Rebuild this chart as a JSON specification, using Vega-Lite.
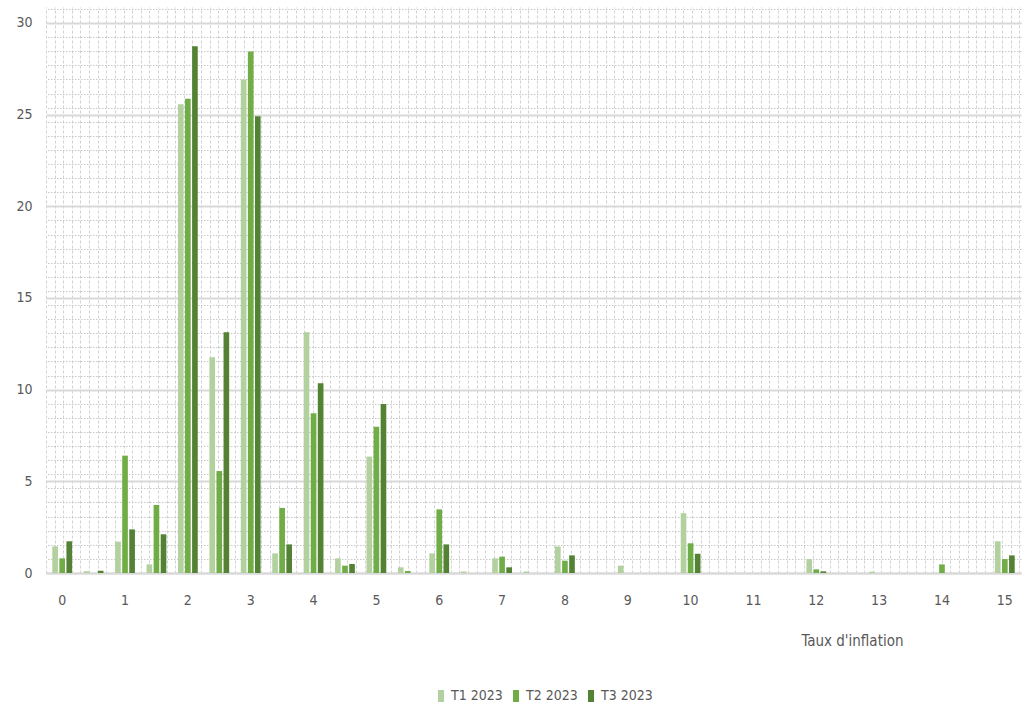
{
  "$schema": "https://vega.github.io/schema/vega-lite/v6.json",
  "width": 975,
  "height": 566,
  "autosize": {"type": "none"},
  "padding": {"left": 46, "top": 7, "right": 3, "bottom": 133},
  "background": "white",
  "config": {
    "view": {"stroke": null},
    "font": "'Liberation Sans Narrow', 'DejaVu Sans Condensed', 'Liberation Sans', sans-serif",
    "axis": {"labelFont": "'Liberation Sans Narrow', 'DejaVu Sans Condensed', 'Liberation Sans', sans-serif", "titleFont": "'Liberation Sans Narrow', 'DejaVu Sans Condensed', 'Liberation Sans', sans-serif", "labelColor": "#595959", "titleColor": "#595959"},
    "legend": {"labelFont": "'Liberation Sans Narrow', 'DejaVu Sans Condensed', 'Liberation Sans', sans-serif"}
  },
  "data": {
    "values": [
      {"taux": 0, "serie": "T1 2023", "valeur": 1.45}, {"taux": 0, "serie": "T2 2023", "valeur": 0.8}, {"taux": 0, "serie": "T3 2023", "valeur": 1.73},
      {"taux": 0.5, "serie": "T1 2023", "valeur": 0.1}, {"taux": 0.5, "serie": "T2 2023", "valeur": 0}, {"taux": 0.5, "serie": "T3 2023", "valeur": 0.12},
      {"taux": 1, "serie": "T1 2023", "valeur": 1.71}, {"taux": 1, "serie": "T2 2023", "valeur": 6.4}, {"taux": 1, "serie": "T3 2023", "valeur": 2.38},
      {"taux": 1.5, "serie": "T1 2023", "valeur": 0.47}, {"taux": 1.5, "serie": "T2 2023", "valeur": 3.71}, {"taux": 1.5, "serie": "T3 2023", "valeur": 2.11},
      {"taux": 2, "serie": "T1 2023", "valeur": 25.57}, {"taux": 2, "serie": "T2 2023", "valeur": 25.86}, {"taux": 2, "serie": "T3 2023", "valeur": 28.73},
      {"taux": 2.5, "serie": "T1 2023", "valeur": 11.77}, {"taux": 2.5, "serie": "T2 2023", "valeur": 5.56}, {"taux": 2.5, "serie": "T3 2023", "valeur": 13.13},
      {"taux": 3, "serie": "T1 2023", "valeur": 26.91}, {"taux": 3, "serie": "T2 2023", "valeur": 28.44}, {"taux": 3, "serie": "T3 2023", "valeur": 24.91},
      {"taux": 3.5, "serie": "T1 2023", "valeur": 1.07}, {"taux": 3.5, "serie": "T2 2023", "valeur": 3.55}, {"taux": 3.5, "serie": "T3 2023", "valeur": 1.56},
      {"taux": 4, "serie": "T1 2023", "valeur": 13.13}, {"taux": 4, "serie": "T2 2023", "valeur": 8.71}, {"taux": 4, "serie": "T3 2023", "valeur": 10.35},
      {"taux": 4.5, "serie": "T1 2023", "valeur": 0.8}, {"taux": 4.5, "serie": "T2 2023", "valeur": 0.4}, {"taux": 4.5, "serie": "T3 2023", "valeur": 0.49},
      {"taux": 5, "serie": "T1 2023", "valeur": 6.35}, {"taux": 5, "serie": "T2 2023", "valeur": 7.98}, {"taux": 5, "serie": "T3 2023", "valeur": 9.22},
      {"taux": 5.5, "serie": "T1 2023", "valeur": 0.31}, {"taux": 5.5, "serie": "T2 2023", "valeur": 0.11}, {"taux": 5.5, "serie": "T3 2023", "valeur": 0},
      {"taux": 6, "serie": "T1 2023", "valeur": 1.07}, {"taux": 6, "serie": "T2 2023", "valeur": 3.47}, {"taux": 6, "serie": "T3 2023", "valeur": 1.56},
      {"taux": 6.5, "serie": "T1 2023", "valeur": 0.08}, {"taux": 6.5, "serie": "T2 2023", "valeur": 0}, {"taux": 6.5, "serie": "T3 2023", "valeur": 0},
      {"taux": 7, "serie": "T1 2023", "valeur": 0.8}, {"taux": 7, "serie": "T2 2023", "valeur": 0.89}, {"taux": 7, "serie": "T3 2023", "valeur": 0.31},
      {"taux": 7.5, "serie": "T1 2023", "valeur": 0.08}, {"taux": 7.5, "serie": "T2 2023", "valeur": 0}, {"taux": 7.5, "serie": "T3 2023", "valeur": 0},
      {"taux": 8, "serie": "T1 2023", "valeur": 1.44}, {"taux": 8, "serie": "T2 2023", "valeur": 0.67}, {"taux": 8, "serie": "T3 2023", "valeur": 0.96},
      {"taux": 8.5, "serie": "T1 2023", "valeur": 0}, {"taux": 8.5, "serie": "T2 2023", "valeur": 0}, {"taux": 8.5, "serie": "T3 2023", "valeur": 0},
      {"taux": 9, "serie": "T1 2023", "valeur": 0.4}, {"taux": 9, "serie": "T2 2023", "valeur": 0}, {"taux": 9, "serie": "T3 2023", "valeur": 0},
      {"taux": 9.5, "serie": "T1 2023", "valeur": 0}, {"taux": 9.5, "serie": "T2 2023", "valeur": 0}, {"taux": 9.5, "serie": "T3 2023", "valeur": 0},
      {"taux": 10, "serie": "T1 2023", "valeur": 3.26}, {"taux": 10, "serie": "T2 2023", "valeur": 1.62}, {"taux": 10, "serie": "T3 2023", "valeur": 1.05},
      {"taux": 10.5, "serie": "T1 2023", "valeur": 0}, {"taux": 10.5, "serie": "T2 2023", "valeur": 0}, {"taux": 10.5, "serie": "T3 2023", "valeur": 0},
      {"taux": 11, "serie": "T1 2023", "valeur": 0}, {"taux": 11, "serie": "T2 2023", "valeur": 0}, {"taux": 11, "serie": "T3 2023", "valeur": 0},
      {"taux": 11.5, "serie": "T1 2023", "valeur": 0}, {"taux": 11.5, "serie": "T2 2023", "valeur": 0}, {"taux": 11.5, "serie": "T3 2023", "valeur": 0},
      {"taux": 12, "serie": "T1 2023", "valeur": 0.76}, {"taux": 12, "serie": "T2 2023", "valeur": 0.2}, {"taux": 12, "serie": "T3 2023", "valeur": 0.09},
      {"taux": 12.5, "serie": "T1 2023", "valeur": 0}, {"taux": 12.5, "serie": "T2 2023", "valeur": 0}, {"taux": 12.5, "serie": "T3 2023", "valeur": 0},
      {"taux": 13, "serie": "T1 2023", "valeur": 0.07}, {"taux": 13, "serie": "T2 2023", "valeur": 0}, {"taux": 13, "serie": "T3 2023", "valeur": 0},
      {"taux": 13.5, "serie": "T1 2023", "valeur": 0}, {"taux": 13.5, "serie": "T2 2023", "valeur": 0}, {"taux": 13.5, "serie": "T3 2023", "valeur": 0},
      {"taux": 14, "serie": "T1 2023", "valeur": 0}, {"taux": 14, "serie": "T2 2023", "valeur": 0.47}, {"taux": 14, "serie": "T3 2023", "valeur": 0},
      {"taux": 14.5, "serie": "T1 2023", "valeur": 0}, {"taux": 14.5, "serie": "T2 2023", "valeur": 0}, {"taux": 14.5, "serie": "T3 2023", "valeur": 0},
      {"taux": 15, "serie": "T1 2023", "valeur": 1.73}, {"taux": 15, "serie": "T2 2023", "valeur": 0.76}, {"taux": 15, "serie": "T3 2023", "valeur": 0.96}
    ]
  },
  "layer": [
    {
      "mark": {"type": "point", "opacity": 0},
      "encoding": {
        "x": {
          "field": "valeur", "type": "quantitative",
          "scale": {"domain": [0, 113.2], "nice": false, "zero": false},
          "axis": {"orient": "top", "grid": true, "gridDash": [3, 2], "gridColor": "#d2d2d2", "gridWidth": 1, "labels": false, "ticks": false, "domain": false, "title": null, "tickCount": 114}
        },
        "y": {
          "field": "valeur", "type": "quantitative",
          "scale": {"domain": [0, 40.14], "nice": false, "zero": false},
          "axis": {"orient": "right", "grid": true, "gridDash": [1.5, 1.5], "gridColor": "#c8c8c8", "gridWidth": 1, "labels": false, "ticks": false, "domain": false, "title": null, "tickCount": 41}
        }
      }
    },
    {
      "mark": {"type": "bar"},
      "encoding": {
        "x": {
          "field": "taux", "type": "ordinal",
          "scale": {"paddingInner": 0.37, "paddingOuter": 0.2},
          "axis": {"orient": "bottom", "labelAngle": 0, "labelExpr": "datum.value % 1 === 0 ? datum.label : ''", "ticks": false, "labelPadding": 20, "labelFontSize": 14, "domainColor": "#d9d9d9", "domainWidth": 2, "grid": false, "title": "Taux d'inflation", "titleFontSize": 15, "titleFontWeight": "normal", "titleAlign": "right", "titleX": 857, "titleY": 72, "titleBaseline": "alphabetic"}
        },
        "xOffset": {"field": "serie", "type": "nominal", "scale": {"paddingInner": 0.2}},
        "y": {
          "field": "valeur", "type": "quantitative",
          "scale": {"domain": [0, 30.87], "nice": false},
          "axis": {"orient": "left", "values": [0, 5, 10, 15, 20, 25, 30], "grid": true, "gridColor": "#d9d9d9", "gridWidth": 2, "domain": false, "ticks": false, "labelPadding": 14, "labelFontSize": 14, "title": null}
        },
        "color": {
          "field": "serie", "type": "nominal",
          "scale": {"domain": ["T1 2023", "T2 2023", "T3 2023"], "range": ["#b2d19f", "#70ad47", "#548235"]},
          "legend": {"orient": "none", "legendX": 388, "legendY": 682, "direction": "horizontal", "title": null, "symbolType": "M-0.5,-1H0.5V1H-0.5Z", "symbolSize": 144, "symbolStrokeWidth": 0, "labelFontSize": 14, "labelColor": "#595959", "labelOffset": 3, "columnPadding": 6}
        }
      }
    }
  ],
  "resolve": {"scale": {"x": "independent", "y": "independent", "color": "independent"}, "axis": {"x": "independent", "y": "independent"}}
}
